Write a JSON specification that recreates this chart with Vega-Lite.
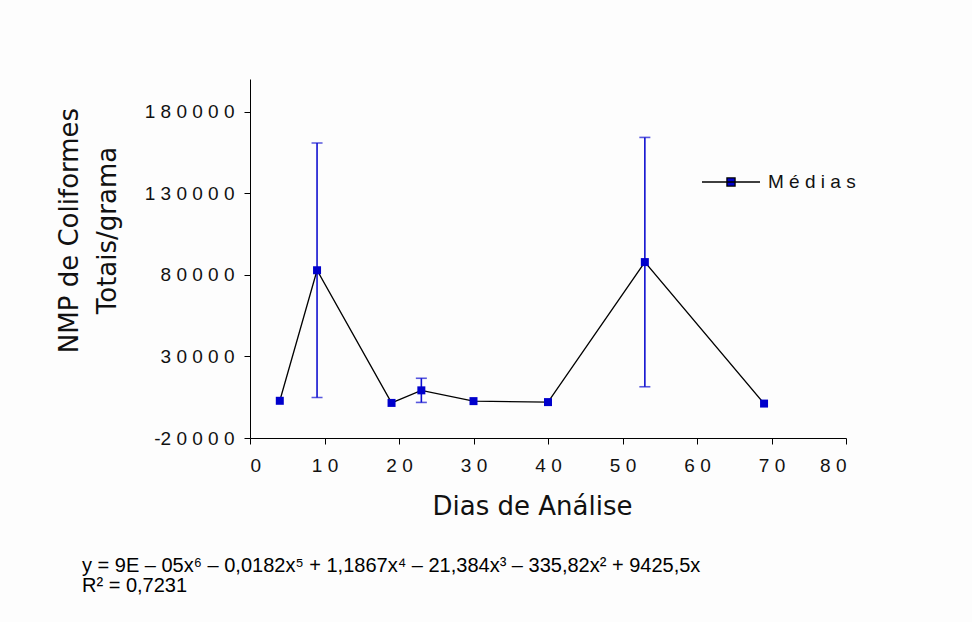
{
  "$schema": "https://vega.github.io/schema/vega-lite/v6.json",
  "width": 596,
  "height": 359,
  "autosize": {"type": "none"},
  "padding": {"left": 250, "top": 79, "right": 126, "bottom": 184},
  "background": "#fdfdfd",
  "config": {
    "view": {"stroke": null},
    "font": "Liberation Sans",
    "axis": {
      "grid": false,
      "domainColor": "black",
      "tickColor": "black",
      "labelColor": "#111111",
      "titleColor": "#111111",
      "labelFontSize": 19,
      "labelFont": "Liberation Sans",
      "titleFont": "DejaVu Sans",
      "titleFontWeight": "normal",
      "tickSize": 6
    }
  },
  "title": {
    "text": ["y = 9E – 05x⁶ – 0,0182x⁵ + 1,1867x⁴ – 21,384x³ – 335,82x² + 9425,5x", "R² = 0,7231"],
    "orient": "bottom",
    "anchor": "start",
    "frame": "group",
    "dx": -168,
    "offset": 37,
    "font": "Liberation Sans",
    "fontSize": 20,
    "fontWeight": "normal",
    "lineHeight": 20,
    "color": "black"
  },
  "data": {
    "values": [
      {"dia": 4, "media": 2800},
      {"dia": 9, "media": 82800, "lo": 4800, "hi": 160800},
      {"dia": 19, "media": 1500},
      {"dia": 23, "media": 9200, "lo": 1800, "hi": 16600},
      {"dia": 30, "media": 2600},
      {"dia": 40, "media": 2000},
      {"dia": 53, "media": 87800, "lo": 11400, "hi": 164200},
      {"dia": 69, "media": 1100}
    ]
  },
  "encoding": {
    "x": {
      "field": "dia",
      "type": "quantitative",
      "scale": {"domain": [0, 80], "nice": false, "zero": false},
      "axis": {
        "values": [0, 10, 20, 30, 40, 50, 60, 70, 80],
        "labelExpr": "join(split(toString(datum.value), ''), ' ')",
        "title": "Dias de Análise",
        "titleFontSize": 26,
        "titleX": 282,
        "titleAlign": "center",
        "labelPadding": 12,
        "titlePadding": 18
      }
    }
  },
  "resolve": {"axis": {"y": "independent"}},
  "layer": [
    {
      "transform": [{"filter": "datum.hi != null"}],
      "mark": {"type": "errorbar", "ticks": {"size": 11}, "thickness": 1.6, "color": "#1010d0"},
      "encoding": {
        "y": {"field": "lo", "type": "quantitative", "scale": {"domain": [-20000, 200000], "nice": false, "zero": false}, "axis": null},
        "y2": {"field": "hi"}
      }
    },
    {
      "mark": {"type": "line", "strokeWidth": 1.3},
      "encoding": {
        "y": {
          "field": "media",
          "type": "quantitative",
          "scale": {"domain": [-20000, 200000], "nice": false, "zero": false},
          "axis": {
            "values": [-20000, 30000, 80000, 130000, 180000],
            "labelExpr": "replace(join(split(toString(datum.value), ''), ' '), '- ', '-')",
            "title": ["NMP de Coliformes", "Totais/grama"],
            "titleFontSize": 26,
            "titleLineHeight": 38,
            "titleAngle": -90,
            "titleAlign": "center",
            "titleBaseline": "middle",
            "titleX": -181,
            "titleY": 151,
            "labelPadding": 10
          }
        },
        "color": {
          "datum": "Médias",
          "type": "nominal",
          "scale": {"range": ["black"]},
          "legend": {
            "title": null,
            "orient": "none",
            "legendX": 451,
            "legendY": 73,
            "symbolType": "M-1,0L1,0M-0.14,-0.14L0.14,-0.14L0.14,0.14L-0.14,0.14Z",
            "symbolSize": 3364,
            "symbolStrokeWidth": 1.3,
            "labelFontSize": 19,
            "labelOffset": 7,
            "labelColor": "#111111",
            "labelExpr": "join(split(datum.label, ''), ' ')",
            "encode": {"symbols": {"update": {"fill": {"value": "#0000cc"}, "stroke": {"value": "black"}}}}
          }
        }
      }
    },
    {
      "mark": {"type": "point", "shape": "square", "filled": true, "size": 64, "color": "#0000cc", "opacity": 1},
      "encoding": {
        "y": {"field": "media", "type": "quantitative", "axis": null}
      }
    }
  ]
}
